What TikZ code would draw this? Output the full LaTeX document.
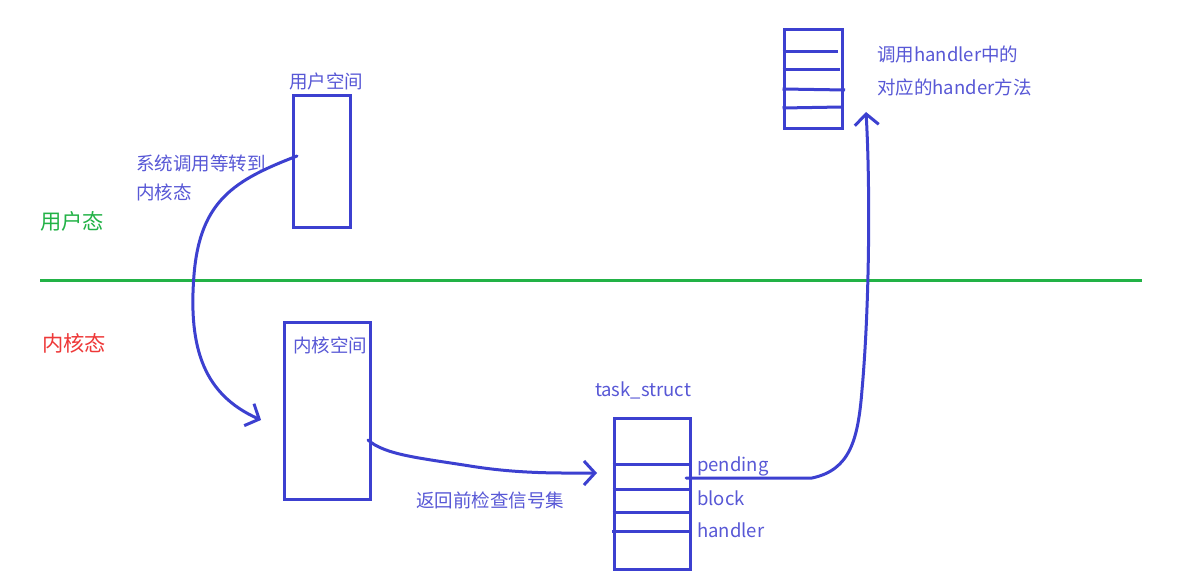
\documentclass[tikz,border=0pt]{standalone}
\usepackage{fontspec}
\setmainfont{Noto Sans CJK SC}
\usetikzlibrary{arrows.meta}
\definecolor{pen}{RGB}{60,64,208}
\definecolor{txt}{RGB}{88,88,214}
\definecolor{grn}{RGB}{34,178,70}
\definecolor{redt}{RGB}{238,56,56}
\tikzset{
  box/.style={draw=pen, line width=3pt, inner sep=0pt, fill=none},
  lbl/.style={text=txt, font=\fontsize{18.5}{22}\selectfont, inner sep=0pt, anchor=west},
  big/.style={inner sep=0pt, anchor=west, font=\fontsize{21.3}{25}\selectfont},
  pline/.style={draw=pen, line width=3pt},
  conn/.style={draw=pen, line width=3pt, line cap=round, line join=round},
  tip/.style={-{Straight Barb[length=11pt,width=24pt,line width=3pt]}}
}
\begin{document}
\begin{tikzpicture}[x=1pt,y=-1pt]
\path[use as bounding box, fill=white] (0,0) rectangle (1180,585);

% user space
\node[lbl, anchor=center] (ulabel) at (326,81) {用户空间};
\node[box, minimum width=57pt, minimum height=132pt] (user) at (321.5,162) {};
\node[lbl] (syscall1) at (136,163) {系统调用等转到};
\node[lbl] (syscall2) at (136,192) {内核态};

% mode labels and separator
\node[big, text=grn] (umode) at (40,221) {用户态};
\node[big, text=redt] (kmode) at (42,343) {内核态};
\coordinate (sepL) at (40,281);
\coordinate (sepR) at (1142,281);
\draw[draw=grn, line width=3pt] (sepL) -- (sepR);

% kernel space
\node[box, minimum width=86pt, minimum height=177pt] (kernel) at (327,410.5) {};
\node[lbl] (klabel) at (293,345) {内核空间};

% task_struct
\node[lbl, anchor=center] (tslabel) at (643,390) {task\_struct};
\node[box, minimum width=76pt, minimum height=151pt] (ts) at (652,493.5) {};
\draw[pline] (ts.west |- 0,464) -- (692,464);
\draw[pline] (ts.west |- 0,489) -- (690,489);
\draw[pline] (ts.west |- 0,512) -- (692,512);
\draw[pline] (612,531) -- (692,531);
\node[lbl] (pending) at (697,466) {pending};
\node[lbl] (block) at (697,498) {block};
\node[lbl] (handler) at (697,530) {handler};

% return text
\node[lbl] (ret) at (416,500) {返回前检查信号集};

% top handler box
\node[box, minimum width=58pt, minimum height=99pt] (hbox) at (813,79.5) {};
\draw[pline] (hbox.west |- 0,52) -- (838,52);
\draw[pline] (hbox.west |- 0,70) -- (840,70);
\draw[pline] (hbox.west |- 0,89) -- (845,90);
\draw[pline] (hbox.west |- 0,108) -- (842,107);
\node[lbl] (h1) at (877,54) {调用handler中的};
\node[lbl] (h2) at (877,87) {对应的hander方法};

% connectors
\coordinate (c1s) at (297,156);
\coordinate (c1e) at (261,420);
\draw[conn, tip] (c1s) .. controls (235,180) and (200,200) .. (194,275)
   .. controls (188,350) and (205,395) .. (c1e);

\coordinate (c2s) at (368,440);
\coordinate (c2e) at (597,473);
\draw[conn, tip] (c2s) .. controls (385,455) and (420,458) .. (470,466)
   .. controls (520,474) and (560,473) .. (c2e);

\coordinate (c3s) at (686,478);
\coordinate (c3e) at (866,112);
\draw[conn, tip] (c3s) -- (812,478) .. controls (850,470) and (858,440) .. (862,390)
   .. controls (870,300) and (870,180) .. (c3e);
\end{tikzpicture}
\end{document}
